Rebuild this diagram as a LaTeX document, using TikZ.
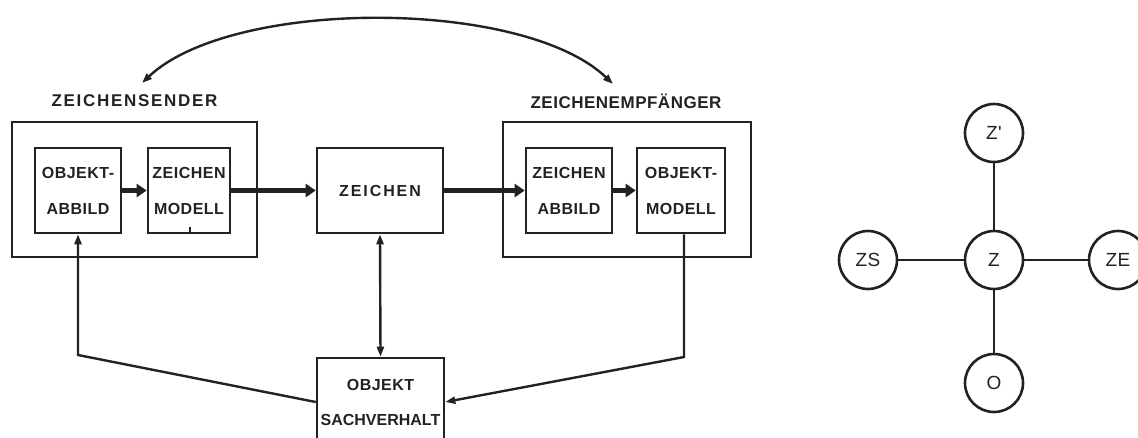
\documentclass[tikz,border=0pt]{standalone}
\usepackage{fontspec}
\setmainfont{Liberation Sans}
\newfontfamily\labfont{Liberation Sans Bold}[LetterSpace=10]
\newfontfamily\labfontb{Liberation Sans Bold}[LetterSpace=3]
\newfontfamily\boxfont{Liberation Sans Bold}[LetterSpace=3]
\newfontfamily\midfont{Liberation Sans Bold}[LetterSpace=12]
\newfontfamily\tightfont{Liberation Sans Bold}[LetterSpace=0]
\newfontfamily\circfont{Liberation Sans}[LetterSpace=2]
\usetikzlibrary{arrows.meta}
\definecolor{ink}{HTML}{222222}
\begin{document}
\begin{tikzpicture}[x=1pt,y=-1pt,
  box/.style={draw=ink, line width=2.6pt, inner sep=0pt, align=center, text=ink,
    font={\boxfont\fontsize{16pt}{36pt}\selectfont}},
  outer/.style={draw=ink, line width=2.6pt, inner sep=0pt},
  lab/.style={inner sep=0pt, text=ink, font={\labfont\fontsize{17pt}{20pt}\selectfont}},
  fat/.style={draw=ink, line width=4.5pt, -{Triangle[length=10pt,width=13pt]}},
  conn/.style={draw=ink, line width=2.4pt},
  tip/.tip={Triangle[length=10pt,width=7pt]},
  circ/.style={circle, draw=ink, line width=2.6pt, minimum size=58pt, inner sep=0pt,
    text=ink, font={\circfont\fontsize{19pt}{20pt}\selectfont}}
]
\useasboundingbox (0,0) rectangle (1138,437);
\clip (0,0) rectangle (1138,437);

% outer boxes
\node[outer, minimum width=245pt, minimum height=135pt] (send) at (134.5,189.5) {};
\node[outer, minimum width=248pt, minimum height=135pt] (recv) at (627,189.5) {};
\node[lab] (sendlab) at (134.5,101) {ZEICHENSENDER};
\node[lab, font={\labfontb\fontsize{17pt}{20pt}\selectfont}] (recvlab) at (626,101) {ZEICHENEMPFÄNGER};

% inner boxes
\node[box, minimum width=86pt, minimum height=85pt] (oa) at (78,190.5) {OBJEKT-\\ABBILD};
\node[box, minimum width=82pt, minimum height=85pt] (zm) at (189,190.5) {ZEICHEN\\MODELL};
\node[box, minimum width=126pt, minimum height=85pt, font={\midfont\fontsize{16pt}{36pt}\selectfont}] (zc) at (380,190.5) {ZEICHEN};
\node[box, minimum width=86pt, minimum height=85pt] (za) at (569,190.5) {ZEICHEN\\ABBILD};
\node[box, minimum width=88pt, minimum height=85pt] (om) at (681,190.5) {OBJEKT-\\MODELL};
\node[box, minimum width=127pt, minimum height=88pt, font={\tightfont\fontsize{16pt}{35pt}\selectfont}] (obj) at (380.5,402) {{\boxfont OBJEKT}\\SACHVERHALT};

% small tick under MODELL
\draw[draw=ink, line width=1.2pt] (190,227) -- (zm.south -| 190,0);

% thick arrows
\draw[fat] (oa.east) -- (zm.west);
\draw[fat] (zm.east) -- (zc.west);
\draw[fat] (zc.east) -- (za.west);
\draw[fat] (za.east) -- (om.west);

% feedback connectors
\coordinate (cL) at (78,355);
\coordinate (cR) at (684,357);
\draw[conn, -tip] (obj.west) -- (cL) -- (oa.south);
\draw[conn, -tip] (cR |- om.south) -- (cR) -- (obj.east);
\draw[conn, tip-tip] (zc.south) -- (obj.north);

% arc
\coordinate (arcL) at (142,83);
\coordinate (arcR) at (613,84);
\draw[conn, tip-tip] (arcL) .. controls (232,-2) and (523,-2) .. (arcR);

% right diagram
\node[circ] (z) at (994,260) {Z};
\node[circ] (zs) at (868,260) {ZS};
\node[circ] (ze) at (1118,260) {ZE};
\node[circ] (o) at (994,383) {O};
\node[circ] (zp) at (994,133) {Z'};
\draw[conn] (zs) -- (z);
\draw[conn] (z) -- (ze);
\draw[conn] (z) -- (o);
\draw[conn] (z) -- (zp);
\end{tikzpicture}
\end{document}
